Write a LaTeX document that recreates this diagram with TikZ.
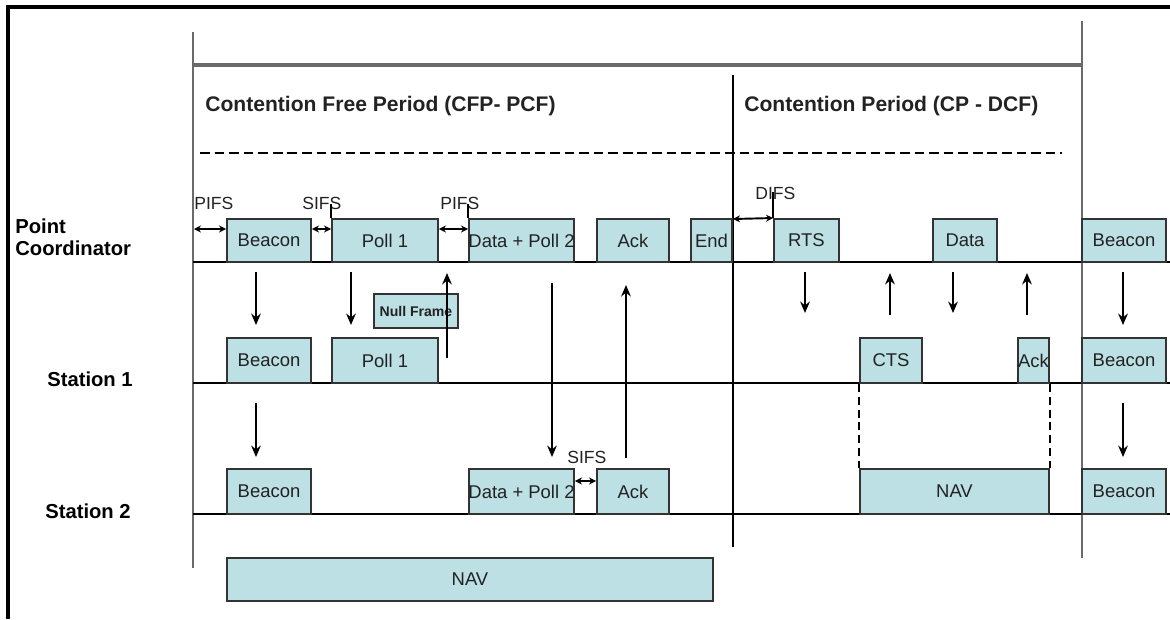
\documentclass[tikz,border=0pt]{standalone}
\usepackage{fontspec}
\setmainfont{Liberation Sans}
\usetikzlibrary{arrows.meta, positioning, fit, calc}

\definecolor{pktfill}{HTML}{BCE0E4}
\definecolor{pktline}{HTML}{333333}
\definecolor{axisgray}{HTML}{6A6A6A}
\definecolor{txt}{HTML}{222222}

\tikzset{
  pkt/.style={draw=pktline, line width=1.1pt, fill=pktfill, inner sep=0pt},
  lbl/.style={font=\fontsize{10.5}{12}\selectfont, text=txt},
  ifs/.style={font=\fontsize{10}{12}\selectfont, text=txt, inner sep=0pt, anchor=west},
  rowname/.style={font=\fontsize{11.5}{12.5}\selectfont\bfseries, inner sep=0pt},
  title/.style={font=\fontsize{12}{14}\selectfont\bfseries, text=txt, inner sep=0pt, anchor=west},
  msg/.style={-{Stealth[length=6.5pt,width=5.5pt]}, line width=1.3pt},
  gap/.style={{Stealth[length=4pt,width=4pt]}-{Stealth[length=4pt,width=4pt]}, line width=1.1pt},
  axis/.style={line width=1.2pt},
}

\begin{document}
\begin{tikzpicture}[x=0.02cm, y=-0.02cm]
  \useasboundingbox (0,0) rectangle (1170,619);

  % Cornice
  \draw[line width=2pt] (8,619) -- (8,7) -- (1170,7);

  % Linee di struttura
  \draw[axisgray, line width=1.2pt] (193,32) -- (193,568);
  \draw[axisgray, line width=1.2pt] (1082,21) -- (1082,558);
  \draw[axisgray, line width=1.8pt] (193,65) -- (1082,65);
  \draw[line width=0.9pt] (733,75) -- (733,547);
  \draw[line width=1.2pt, dash pattern=on 5.5pt off 2.8pt] (200,153) -- (1062,153);

  % Titoli dei periodi
  \node[title] (cfp) at (205,106) {Contention Free Period (CFP- PCF)};
  \node[title] (cp) at (744,106) {Contention Period (CP - DCF)};

  % Nomi delle stazioni
  \node[rowname, anchor=west, align=left] (pcName) at (15,237) {Point\\Coordinator};
  \node[rowname] (s1Name) at (90,379) {Station 1};
  \node[rowname] (s2Name) at (88,511) {Station 2};

  % Assi temporali
  \draw[axis] (193,262) -- (1170,262);
  \draw[axis] (193,383) -- (1170,383);
  \draw[axis] (193,514) -- (1170,514);

  % Trame del Point Coordinator
  \node[pkt, fit={(227,219) (311,262)}, label={[lbl]center:Beacon}] (pcBeacon) {};
  \node[pkt, fit={(332,219) (438,262)}, label={[lbl]center:Poll 1}] (pcPoll) {};
  \node[pkt, fit={(469,219) (574,262)}, label={[lbl]center:Data + Poll 2}] (pcData) {};
  \node[pkt, fit={(597,219) (669,262)}, label={[lbl]center:Ack}] (pcAck) {};
  \node[pkt, fit={(691,219) (732,262)}, label={[lbl]center:End}] (pcEnd) {};
  \node[pkt, fit={(774,219) (839,262)}, label={[lbl]center:RTS}] (pcRts) {};
  \node[pkt, fit={(933,219) (997,262)}, label={[lbl]center:Data}] (pcDcf) {};
  \node[pkt, fit={(1082,219) (1166,262)}, label={[lbl]center:Beacon}] (pcBeaconB) {};

  \node[pkt, fit={(374,294) (458,328)}, label={[font=\fontsize{8}{9}\selectfont\bfseries, text=txt]center:Null Frame}] (nullFrame) {};

  % Trame della Station 1
  \node[pkt, fit={(227,338) (311,383)}, label={[lbl]center:Beacon}] (s1Beacon) {};
  \node[pkt, fit={(332,338) (438,383)}, label={[lbl]center:Poll 1}] (s1Poll) {};
  \node[pkt, fit={(860,338) (922,383)}, label={[lbl]center:CTS}] (s1Cts) {};
  \node[pkt, fit={(1018,338) (1049,383)}, label={[lbl]center:Ack}] (s1Ack) {};
  \node[pkt, fit={(1082,338) (1166,383)}, label={[lbl]center:Beacon}] (s1BeaconB) {};

  % Trame della Station 2
  \node[pkt, fit={(227,469) (311,514)}, label={[lbl]center:Beacon}] (s2Beacon) {};
  \node[pkt, fit={(469,469) (574,514)}, label={[lbl]center:Data + Poll 2}] (s2Data) {};
  \node[pkt, fit={(597,469) (669,514)}, label={[lbl]center:Ack}] (s2Ack) {};
  \node[pkt, fit={(860,469) (1049,514)}, label={[lbl]center:NAV}] (s2Nav) {};
  \node[pkt, fit={(1082,469) (1166,514)}, label={[lbl]center:Beacon}] (s2BeaconB) {};

  \node[pkt, fit={(227,558) (713,601)}, label={[lbl]center:NAV}] (cfpNav) {};

  % NAV durante il CP
  \draw[line width=1.1pt, dash pattern=on 4.5pt off 2.8pt] (s1Cts.south west) -- (s2Nav.north west);
  \draw[line width=1.1pt, dash pattern=on 4.5pt off 2.8pt] (s1Ack.south east) -- (s2Nav.north east);

  % Intervalli IFS
  \node[ifs] (pifsA) at (194,203) {PIFS};
  \node[ifs] (sifsA) at (302,203) {SIFS};
  \node[ifs] (pifsB) at (440,203) {PIFS};
  \node[ifs] (difs) at (755,193) {DIFS};
  \node[ifs] (sifsB) at (567,457) {SIFS};

  \coordinate (pcGap) at (194,229);
  \coordinate (s2Gap) at (0,481);
  \draw[line width=0.9pt] (pcPoll.north west) -- ++(0,-14);
  \draw[line width=0.9pt] (pcData.north west) -- ++(0,-14);
  \draw[line width=0.9pt] (pcRts.north west) -- ++(0,-26);
  \draw[gap] (pcGap) -- (pcBeacon.west |- pcGap);
  \draw[gap] (pcBeacon.east |- pcGap) -- (pcPoll.west |- pcGap);
  \draw[gap] (pcPoll.east |- pcGap) -- (pcData.west |- pcGap);
  \draw[gap] (733,219) -- (pcRts.north west);
  \draw[gap] (s2Data.east |- s2Gap) -- (s2Ack.west |- s2Gap);

  % Messaggi tra le stazioni
  \foreach \n/\x/\a/\b in {m1/256/272/325, m2/351/272/325, m3/447/358/273,
      m4/552/283/457, m5/626/458/285, m6/805/272/313, m7/890/315/273,
      m8/953/272/313, m9/1027/315/273, m10/1123/272/325,
      m11/256/403/457, m12/1123/403/457} {
    \coordinate (\n a) at (\x,\a);
    \coordinate (\n b) at (\x,\b);
    \draw[msg] (\n a) -- (\n b);
  }
\end{tikzpicture}
\end{document}
